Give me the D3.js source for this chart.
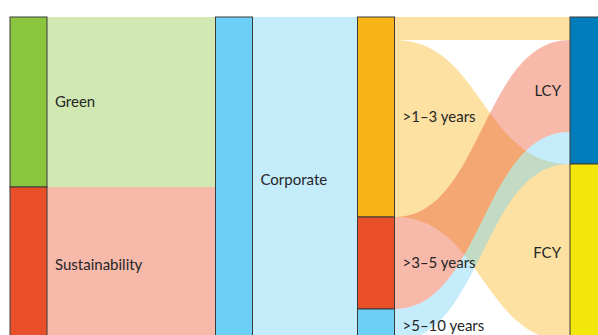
<!DOCTYPE html>
<html>
<head>
<meta charset="utf-8">
<script src="https://cdn.jsdelivr.net/npm/d3@7"></script>
<style>
  html, body { margin: 0; padding: 0; background: #fff; overflow: hidden; }
  svg { display: block; }
  text { font-family: Lato, "Open Sans", sans-serif; fill: #262626; }
</style>
</head>
<body>
<svg id="chart" width="598" height="335"></svg>
<script>
// Bond issuance flows: type -> sector -> tenor -> currency
const typeNames = ["Green", "Sustainability"];
const sectorNames = ["Corporate"];
const tenorNames = [">1–3 years", ">3–5 years", ">5–10 years"];
const currencyNames = ["LCY", "FCY"];

// amounts flowing from each type into Corporate
const typeToCorporate = [170, 155];
// amounts flowing from Corporate into each tenor
const corporateToTenor = [200, 92, 33];
// amounts flowing from each tenor into each currency
const tenorToLCY = [23, 92, 32];
const tenorToFCY = [177, 0, 1];

const nodeColors = {
  "Green": "#8cc63f",
  "Sustainability": "#e9502a",
  "Corporate": "#6ccff6",
  ">1–3 years": "#f9b418",
  ">3–5 years": "#e9502a",
  ">5–10 years": "#6ccff6",
  "LCY": "#007dba",
  "FCY": "#f2e60a"
};

const width = 598, height = 335;
const columns = [typeNames, sectorNames, tenorNames, currencyNames];
const columnX = d3.scaleOrdinal().domain([0, 1, 2, 3]).range([10, 215.5, 357.5, 570]);
const nodeWidth = 37;
const labelGap = 8;

// build nodes and links
const nodes = [];
const byName = {};
columns.forEach((names, depth) => names.forEach(name => {
  const n = { name, depth, value: 0, inLinks: [], outLinks: [] };
  nodes.push(n); byName[name] = n;
}));

const links = [];
function addLink(s, t, v) {
  if (v <= 0) return;
  const l = { source: byName[s], target: byName[t], value: v };
  links.push(l);
  l.source.outLinks.push(l);
  l.target.inLinks.push(l);
}
// added in paint order: later links are drawn over earlier ones
typeNames.forEach((n, i) => addLink(n, "Corporate", typeToCorporate[i]));
tenorNames.forEach((n, i) => addLink("Corporate", n, corporateToTenor[i]));
tenorNames.forEach((n, i) => addLink(n, "FCY", tenorToFCY[i]));
tenorNames.forEach((n, i) => addLink(n, "LCY", tenorToLCY[i]));

nodes.forEach(n => {
  n.value = Math.max(d3.sum(n.inLinks, l => l.value), d3.sum(n.outLinks, l => l.value));
});

const total = d3.sum(nodes.filter(n => n.depth === 0), n => n.value);
const y = d3.scaleLinear().domain([0, total]).range([17, 17 + total]);

// stack nodes within each column
columns.forEach(names => {
  let acc = 0;
  names.forEach(name => {
    const n = byName[name];
    n.v0 = acc; n.y0 = y(acc); acc += n.value; n.y1 = y(acc);
    n.x0 = columnX(n.depth); n.x1 = n.x0 + nodeWidth;
  });
});

// stack link ends on each node, ordered by the node on the other side
const order = n => nodes.indexOf(n);
nodes.forEach(n => {
  let a = n.v0;
  [...n.outLinks].sort((p, q) => order(p.target) - order(q.target)).forEach(l => {
    l.sy0 = y(a); a += l.value; l.sy1 = y(a);
  });
  let b = n.v0;
  [...n.inLinks].sort((p, q) => order(p.source) - order(q.source)).forEach(l => {
    l.ty0 = y(b); b += l.value; l.ty1 = y(b);
  });
});

function linkArea(l) {
  const x0 = l.source.x1, x1 = l.target.x0, xm = (x0 + x1) / 2;
  const p = d3.path();
  p.moveTo(x0, l.sy0);
  p.bezierCurveTo(xm, l.sy0, xm, l.ty0, x1, l.ty0);
  p.lineTo(x1, l.ty1);
  p.bezierCurveTo(xm, l.ty1, xm, l.sy1, x0, l.sy1);
  p.closePath();
  return p.toString();
}

const svg = d3.select("#chart");

svg.append("g")
  .selectAll("path")
  .data(links)
  .join("path")
  .attr("d", linkArea)
  .attr("fill", d => nodeColors[d.source.name])
  .attr("fill-opacity", 0.4);

svg.append("g")
  .selectAll("rect")
  .data(nodes)
  .join("rect")
  .attr("x", d => d.x0)
  .attr("y", d => d.y0)
  .attr("width", nodeWidth)
  .attr("height", d => d.y1 - d.y0)
  .attr("fill", d => nodeColors[d.name])
  .attr("stroke", "#3a3a3a")
  .attr("stroke-width", 1);

// labels only for nodes whose label fits inside the drawing
svg.append("g")
  .selectAll("text")
  .data(nodes.filter(d => (d.y0 + d.y1) / 2 + 8 <= height))
  .join("text")
  .attr("x", d => d.depth === 3 ? d.x0 - labelGap - 1 : d.x1 + labelGap)
  .attr("y", d => (d.y0 + d.y1) / 2)
  .attr("dy", "0.35em")
  .attr("text-anchor", d => d.depth === 3 ? "end" : "start")
  .attr("font-size", 15)
  .text(d => d.name);
</script>
</body>
</html>
